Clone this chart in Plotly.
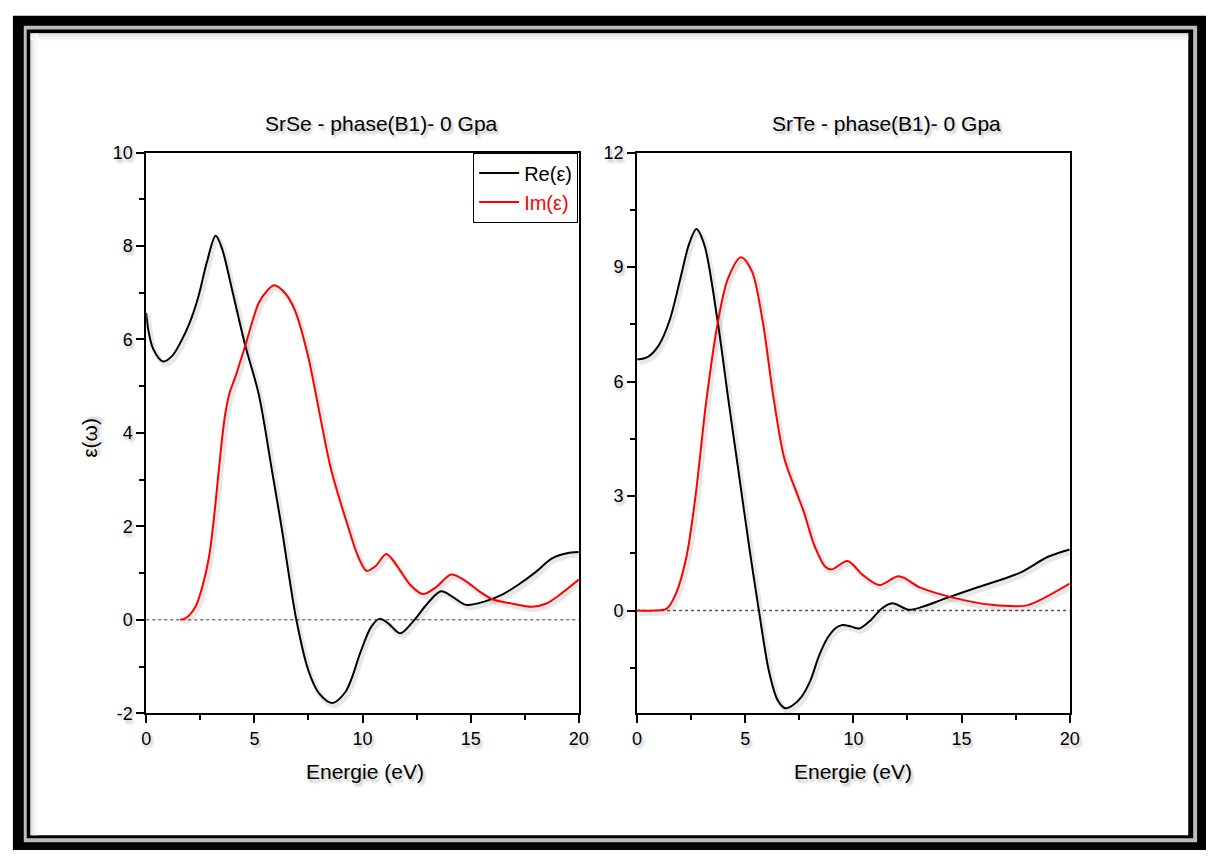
import plotly.graph_objects as go

W, H = 1216, 860

# ---------------- data ----------------
srse_re_E = [0.0, 0.09, 0.32, 0.78, 1.2, 1.6, 2.0, 2.4, 2.8, 3.21, 3.5, 3.97, 4.58, 5.2, 5.8,
             6.26, 6.94, 7.5, 8.0, 8.61, 9.2, 9.5, 9.9, 10.4, 10.79, 11.2, 11.74, 12.4, 13.0, 13.63, 14.2,
             14.78, 15.7, 16.5, 17.2, 18.0, 18.74, 19.4, 20.0]
srse_re_V = [6.57, 6.22, 5.8, 5.53, 5.65, 5.95, 6.35, 6.9, 7.65, 8.22, 7.95, 7.06, 5.87, 4.83, 3.23,
             1.97, 0.0, -1.09, -1.58, -1.78, -1.55, -1.25, -0.7, -0.15, 0.02, -0.08, -0.29, 0.0, 0.35, 0.61, 0.48,
             0.32, 0.40, 0.55, 0.75, 1.02, 1.31, 1.42, 1.45]

srse_im_E = [1.57, 1.8, 2.0, 2.3, 2.6, 2.9, 3.1, 3.36, 3.5, 3.65, 3.85, 4.12, 4.58, 5.2, 5.6, 5.92, 6.4, 6.86, 7.47,
             8.0, 8.54, 9.3, 9.8, 10.18, 10.6, 11.1, 11.6, 12.2, 12.8, 13.4, 14.1, 14.7, 15.4,
             16.0, 16.9, 17.83, 18.5, 19.04, 20.0]
srse_im_V = [0.0, 0.03, 0.1, 0.3, 0.72, 1.34, 2.05, 3.23, 3.85, 4.4, 4.85, 5.2, 5.87, 6.78, 7.05, 7.16, 7.0, 6.64, 5.67,
             4.45, 3.23, 2.04, 1.35, 1.05, 1.15, 1.41, 1.15, 0.75, 0.55, 0.7, 0.97, 0.85, 0.61,
             0.44, 0.35, 0.28, 0.35, 0.51, 0.86]

srte_re_E = [0.0, 0.5, 1.0, 1.5, 2.0, 2.4, 2.74, 3.1, 3.73, 4.2, 4.7, 5.2, 5.63, 6.1, 6.5, 6.85,
             7.2, 7.6, 8.0, 8.4, 8.8, 9.2, 9.5, 9.9, 10.27, 10.8, 11.3, 11.8, 12.56, 13.3, 14.16,
             15.68, 17.66, 19.0, 20.0]
srte_re_V = [6.58, 6.65, 6.95, 7.6, 8.7, 9.6, 10.0, 9.6, 7.55, 5.6, 3.6, 1.6, 0.0, -1.6, -2.35, -2.56,
             -2.48, -2.26, -1.85, -1.2, -0.72, -0.45, -0.38, -0.42, -0.47, -0.25, 0.05, 0.19, 0.02, 0.12, 0.30,
             0.60, 0.98, 1.41, 1.60]

srte_im_E = [0.0, 0.8, 1.37, 1.8, 2.28, 2.7, 3.2, 3.73, 4.2, 4.8, 5.3, 5.8, 6.3, 6.8, 7.3, 7.7,
             8.2, 8.7, 9.0, 9.73, 10.4, 11.2, 12.1, 13.1, 14.6, 16.4, 17.96, 18.57, 20.0]
srte_im_V = [0.0, 0.0, 0.05, 0.45, 1.41, 3.0, 5.5, 7.55, 8.7, 9.26, 8.9, 7.6, 5.6, 4.0, 3.2, 2.6,
             1.7, 1.15, 1.08, 1.3, 0.95, 0.67, 0.90, 0.60, 0.34, 0.15, 0.13, 0.26, 0.71]

left_ytick_vals = [-2, 0, 2, 4, 6, 8, 10]
left_ytick_text = ["-2", "0", "2", "4", "6", "8", "10"]
right_ytick_vals = [0, 3, 6, 9, 12]
right_ytick_text = ["0", "3", "6", "9", "12"]

titles = ["SrSe - phase(B1)- 0 Gpa", "SrTe - phase(B1)- 0 Gpa"]
x_title = "Energie (eV)"
y_title = "ε(ω)"
series_names = ["Re(ε)", "Im(ε)"]

# ---------------- layout helpers (window pixels -> paper fractions) ----------------
def px(x):
    return x / W

def py(y):
    return 1 - y / H

FONT = "Liberation Sans, Arial, sans-serif"
SHADOW = "2px 3px 3px rgba(0,0,0,0.28)"

fig = go.Figure()

# soft drop shadows under the curves (offset by a few pixels)
def add_shadow(E, V, xa, ya, ex, ey):
    fig.add_trace(go.Scatter(x=[e + ex for e in E], y=[v - ey for v in V], mode="lines",
                             line=dict(color="rgba(0,0,0,0.09)", width=5, shape="spline", smoothing=0.9),
                             showlegend=False, hoverinfo="skip", xaxis=xa, yaxis=ya))

add_shadow(srse_re_E, srse_re_V, "x", "y", 0.1, 0.06)
add_shadow(srse_im_E, srse_im_V, "x", "y", 0.1, 0.06)
add_shadow(srte_re_E, srte_re_V, "x2", "y2", 0.1, 0.075)
add_shadow(srte_im_E, srte_im_V, "x2", "y2", 0.1, 0.075)

fig.add_trace(go.Scatter(x=srse_re_E, y=srse_re_V, mode="lines", line=dict(color="black", width=2, shape="spline", smoothing=0.9),
                         name=series_names[0], xaxis="x", yaxis="y"))
fig.add_trace(go.Scatter(x=srse_im_E, y=srse_im_V, mode="lines", line=dict(color="#ff0000", width=2, shape="spline", smoothing=0.9),
                         name="<span style='color:#ff0000'>" + series_names[1] + "</span>", xaxis="x", yaxis="y"))
fig.add_trace(go.Scatter(x=srte_re_E, y=srte_re_V, mode="lines", line=dict(color="black", width=2, shape="spline", smoothing=0.9),
                         showlegend=False, xaxis="x2", yaxis="y2"))
fig.add_trace(go.Scatter(x=srte_im_E, y=srte_im_V, mode="lines", line=dict(color="#ff0000", width=2, shape="spline", smoothing=0.9),
                         showlegend=False, xaxis="x2", yaxis="y2"))

axis_common = dict(showline=True, linecolor="black", linewidth=1.8, mirror=True,
                   ticks="outside", ticklen=8, tickwidth=1.5, tickcolor="black",
                   showgrid=False, zeroline=False,
                   tickfont=dict(family=FONT, size=18, color="black", shadow=SHADOW))

fig.update_layout(
    width=W, height=H,
    margin=dict(l=0, r=0, t=0, b=0),
    paper_bgcolor="white", plot_bgcolor="rgba(0,0,0,0)",
    xaxis=dict(domain=[px(143), px(581)], range=[0, 20], dtick=5, tick0=0, anchor="y",
               minor=dict(ticks="outside", ticklen=5, tickwidth=1.5, dtick=2.5, tick0=0, tickcolor="black"), **axis_common),
    yaxis=dict(domain=[py(720), py(146)], range=[-2, 10], tickmode="array",
               tickvals=left_ytick_vals, ticktext=left_ytick_text, anchor="x",
               minor=dict(ticks="outside", ticklen=5, tickwidth=1.5, tickmode="linear", dtick=1, tick0=0,
                          tickcolor="black"), **axis_common),
    xaxis2=dict(domain=[px(640), px(1078)], range=[0, 20], dtick=5, tick0=0, anchor="y2",
                minor=dict(ticks="outside", ticklen=5, tickwidth=1.5, dtick=2.5, tick0=0, tickcolor="black"), **axis_common),
    yaxis2=dict(domain=[py(720), py(146)], range=[-2.69, 12], tickmode="array",
                tickvals=right_ytick_vals, ticktext=right_ytick_text, anchor="x2",
                minor=dict(ticks="outside", ticklen=5, tickwidth=1.5, tickmode="linear", dtick=1.5, tick0=0,
                           tickcolor="black"), **axis_common),
    legend=dict(x=px(474), y=py(146), xanchor="left", yanchor="top",
                bgcolor="white", bordercolor="black", borderwidth=1,
                font=dict(family=FONT, size=20, color="black"),
                tracegroupgap=0, itemwidth=40),
    showlegend=True,
)

# ---------------- frame ----------------
shapes = []
def rect(x0, y0, x1, y1, color):
    shapes.append(dict(type="rect", xref="paper", yref="paper", x0=px(x0), x1=px(x1), y0=py(y1), y1=py(y0),
                       fillcolor=color, line=dict(width=0), layer="below"))

rect(8, 6, 1216, 860, "black")
rect(19, 16, 1207, 852, "#bdbdbd")
rect(22, 20, 1203, 848, "black")
rect(26, 24, 1198, 845, "white")
# soft inner shadow at top/left of the frame interior
for i, c in enumerate(["#dcdcdc", "#e6e6e6", "#eeeeee", "#f4f4f4", "#f9f9f9"]):
    shapes.append(dict(type="line", xref="paper", yref="paper", x0=px(26), x1=px(1198),
                       y0=py(24.5 + i * 1.5), y1=py(24.5 + i * 1.5), line=dict(color=c, width=1.6), layer="below"))
    shapes.append(dict(type="line", xref="paper", yref="paper", x0=px(26.5 + i * 1.5), x1=px(26.5 + i * 1.5),
                       y0=py(24), y1=py(845), line=dict(color=c, width=1.6), layer="below"))

# dotted zero lines
shapes.append(dict(type="line", xref="x", yref="y", x0=0, x1=20, y0=0, y1=0,
                   line=dict(color="#333333", width=1, dash="dot"), layer="below"))
shapes.append(dict(type="line", xref="x2", yref="y2", x0=0, x1=20, y0=0, y1=0,
                   line=dict(color="#555555", width=1.5, dash="dot"), layer="below"))
fig.update_layout(shapes=shapes)

tfont = dict(family=FONT, size=21, color="black", shadow=SHADOW)
ann = []
def label(text, x, y, angle=0):
    ann.append(dict(text=text, x=px(x), y=py(y), xref="paper", yref="paper", showarrow=False,
                    xanchor="center", yanchor="middle", textangle=angle, font=tfont))

label(titles[0], 381, 116)
label(titles[1], 893, 116)
label(x_title, 365, 780)
label(x_title, 859, 780)
label(y_title, 86, 438, -90)
fig.update_layout(annotations=ann)

fig.write_html("out.html")
